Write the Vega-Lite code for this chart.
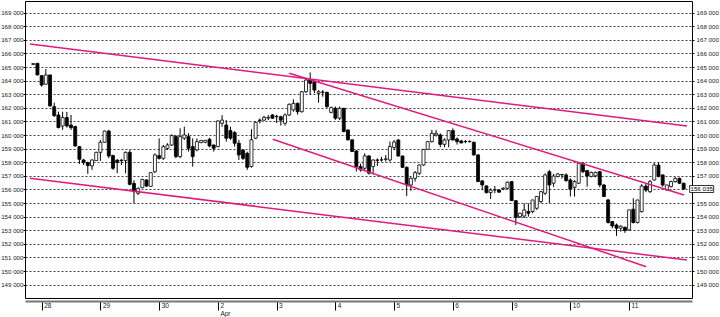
{
"$schema": "https://vega.github.io/schema/vega-lite/v6.json",
"width": 667, "height": 297,
"autosize": {"type": "none"},
"padding": {"left": 25, "top": 1, "right": 28, "bottom": 19},
"background": "white",
"config": {"view": {"stroke": "#000", "strokeWidth": 1}, "axis": {"labelFont": "Liberation Sans", "labelFontSize": 6.2, "labelColor": "#222"}},
"datasets": {
"candles": [
{"i":0,"o":165200,"h":165300,"l":165150,"c":165250},
{"i":1,"o":165280,"h":165300,"l":164400,"c":164420},
{"i":2,"o":164370,"h":164420,"l":163560,"c":163680},
{"i":3,"o":163740,"h":164860,"l":163700,"c":164420},
{"i":4,"o":164420,"h":164450,"l":162100,"c":162140},
{"i":5,"o":162090,"h":162380,"l":161330,"c":161430},
{"i":6,"o":161480,"h":161720,"l":160500,"c":160550},
{"i":7,"o":160670,"h":161720,"l":160380,"c":161290},
{"i":8,"o":161290,"h":161700,"l":160550,"c":160670},
{"i":9,"o":160740,"h":161480,"l":160380,"c":160550},
{"i":10,"o":160620,"h":160700,"l":159150,"c":159200},
{"i":11,"o":159150,"h":159200,"l":157880,"c":158220},
{"i":12,"o":158170,"h":158250,"l":157800,"c":157980},
{"i":13,"o":157980,"h":158050,"l":157150,"c":157760},
{"i":14,"o":157740,"h":158200,"l":157440,"c":158170},
{"i":15,"o":158120,"h":158780,"l":158100,"c":158730},
{"i":16,"o":158730,"h":159640,"l":158100,"c":159470},
{"i":17,"o":159470,"h":160330,"l":159450,"c":160300},
{"i":18,"o":160300,"h":160400,"l":158300,"c":158460},
{"i":19,"o":158490,"h":158560,"l":157440,"c":157560},
{"i":20,"o":158150,"h":158250,"l":157190,"c":157980},
{"i":21,"o":158150,"h":158250,"l":157800,"c":158120},
{"i":22,"o":158120,"h":158800,"l":157190,"c":158730},
{"i":23,"o":158730,"h":158900,"l":156300,"c":156380},
{"i":24,"o":156450,"h":156680,"l":154990,"c":155840},
{"i":25,"o":155720,"h":156150,"l":155600,"c":156080},
{"i":26,"o":156130,"h":156780,"l":156100,"c":156740},
{"i":27,"o":156700,"h":156750,"l":156200,"c":156250},
{"i":28,"o":156230,"h":157260,"l":156200,"c":157240},
{"i":29,"o":157310,"h":158660,"l":157200,"c":158540},
{"i":30,"o":158490,"h":159760,"l":158200,"c":158290},
{"i":31,"o":158290,"h":159280,"l":158170,"c":159150},
{"i":32,"o":159030,"h":159400,"l":158900,"c":159270},
{"i":33,"o":159270,"h":160060,"l":159200,"c":159960},
{"i":34,"o":159890,"h":160000,"l":158300,"c":158420},
{"i":35,"o":158420,"h":160500,"l":158300,"c":159890},
{"i":36,"o":159770,"h":160620,"l":159650,"c":160010},
{"i":37,"o":159890,"h":160140,"l":158790,"c":159030},
{"i":38,"o":159150,"h":159760,"l":157680,"c":158420},
{"i":39,"o":158910,"h":159760,"l":158800,"c":159520},
{"i":40,"o":159450,"h":159650,"l":159400,"c":159600},
{"i":41,"o":159470,"h":159640,"l":159400,"c":159620},
{"i":42,"o":159690,"h":159800,"l":159100,"c":159200},
{"i":43,"o":159270,"h":159300,"l":158790,"c":159030},
{"i":44,"o":159150,"h":161080,"l":159100,"c":161040},
{"i":45,"o":160870,"h":161470,"l":160620,"c":161100},
{"i":46,"o":160740,"h":161100,"l":159520,"c":159770},
{"i":47,"o":160330,"h":160620,"l":159650,"c":159770},
{"i":48,"o":160180,"h":160300,"l":159150,"c":159400},
{"i":49,"o":159400,"h":159650,"l":158170,"c":158540},
{"i":50,"o":158900,"h":158950,"l":158170,"c":158290},
{"i":51,"o":158660,"h":158780,"l":157440,"c":157630},
{"i":52,"o":157690,"h":160430,"l":157600,"c":159650},
{"i":53,"o":159770,"h":161000,"l":159700,"c":160940},
{"i":54,"o":161100,"h":161220,"l":160850,"c":161080},
{"i":55,"o":161100,"h":161420,"l":161050,"c":161300},
{"i":56,"o":161250,"h":161470,"l":161100,"c":161300},
{"i":57,"o":161480,"h":161550,"l":161200,"c":161240},
{"i":58,"o":161350,"h":161500,"l":160900,"c":161380},
{"i":59,"o":161350,"h":161420,"l":160700,"c":161100},
{"i":60,"o":160870,"h":161600,"l":160700,"c":161480},
{"i":61,"o":161480,"h":162330,"l":161400,"c":162260},
{"i":62,"o":161850,"h":162630,"l":161720,"c":162330},
{"i":63,"o":162330,"h":162400,"l":161500,"c":161720},
{"i":64,"o":161720,"h":163250,"l":161650,"c":163190},
{"i":65,"o":163190,"h":164200,"l":163100,"c":164050},
{"i":66,"o":164050,"h":164610,"l":162980,"c":163800},
{"i":67,"o":163930,"h":164000,"l":163070,"c":163310},
{"i":68,"o":163070,"h":163310,"l":162380,"c":163190},
{"i":69,"o":163160,"h":163310,"l":162820,"c":163150},
{"i":70,"o":163140,"h":163200,"l":162000,"c":162090},
{"i":71,"o":161670,"h":162100,"l":161600,"c":162020},
{"i":72,"o":161970,"h":162100,"l":161120,"c":161240},
{"i":73,"o":161240,"h":162100,"l":161100,"c":161970},
{"i":74,"o":161970,"h":162000,"l":160200,"c":160260},
{"i":75,"o":160380,"h":160400,"l":159600,"c":159650},
{"i":76,"o":159650,"h":159700,"l":158750,"c":158790},
{"i":77,"o":158830,"h":158900,"l":157320,"c":157680},
{"i":78,"o":157680,"h":157900,"l":157320,"c":157440},
{"i":79,"o":157560,"h":158660,"l":157440,"c":158470},
{"i":80,"o":158470,"h":158500,"l":157100,"c":157200},
{"i":81,"o":157680,"h":158200,"l":157100,"c":158170},
{"i":82,"o":158170,"h":158290,"l":157730,"c":158150},
{"i":83,"o":158170,"h":158400,"l":158050,"c":158180},
{"i":84,"o":158220,"h":158530,"l":158050,"c":158250},
{"i":85,"o":158170,"h":159520,"l":158050,"c":159160},
{"i":86,"o":159080,"h":159640,"l":158900,"c":159490},
{"i":87,"o":159640,"h":159700,"l":158420,"c":158460},
{"i":88,"o":158460,"h":158500,"l":157580,"c":157630},
{"i":89,"o":157630,"h":157700,"l":155520,"c":156330},
{"i":90,"o":156330,"h":156900,"l":155900,"c":156820},
{"i":91,"o":156820,"h":157360,"l":156580,"c":157240},
{"i":92,"o":157190,"h":157850,"l":157070,"c":157800},
{"i":93,"o":157800,"h":158980,"l":157750,"c":158950},
{"i":94,"o":158950,"h":159560,"l":158900,"c":159520},
{"i":95,"o":159520,"h":160380,"l":159450,"c":160130},
{"i":96,"o":160010,"h":160380,"l":159890,"c":160130},
{"i":97,"o":160010,"h":160130,"l":159100,"c":159320},
{"i":98,"o":159320,"h":159760,"l":159100,"c":159640},
{"i":99,"o":159640,"h":160330,"l":159100,"c":160330},
{"i":100,"o":160330,"h":160500,"l":159600,"c":159640},
{"i":101,"o":159710,"h":159830,"l":159300,"c":159520},
{"i":102,"o":159570,"h":159650,"l":159400,"c":159420},
{"i":103,"o":159520,"h":159640,"l":159400,"c":159530},
{"i":104,"o":159520,"h":159600,"l":159450,"c":159540},
{"i":105,"o":159470,"h":159520,"l":158500,"c":158540},
{"i":106,"o":158540,"h":158600,"l":156550,"c":156580},
{"i":107,"o":156630,"h":156700,"l":155950,"c":156330},
{"i":108,"o":156260,"h":156330,"l":155700,"c":155770},
{"i":109,"o":155770,"h":156080,"l":155300,"c":155960},
{"i":110,"o":155960,"h":156260,"l":155730,"c":155980},
{"i":111,"o":155960,"h":156000,"l":155770,"c":155800},
{"i":112,"o":156040,"h":156150,"l":155950,"c":156100},
{"i":113,"o":156090,"h":156580,"l":156000,"c":156530},
{"i":114,"o":156580,"h":156600,"l":155150,"c":155180},
{"i":115,"o":155180,"h":155200,"l":153390,"c":153950},
{"i":116,"o":154000,"h":154300,"l":153900,"c":154250},
{"i":117,"o":154050,"h":154980,"l":153900,"c":154500},
{"i":118,"o":154380,"h":154980,"l":154000,"c":154250},
{"i":119,"o":154380,"h":155230,"l":154250,"c":155230},
{"i":120,"o":154620,"h":155500,"l":154500,"c":155480},
{"i":121,"o":155110,"h":155900,"l":155000,"c":155840},
{"i":122,"o":155720,"h":157190,"l":155600,"c":157070},
{"i":123,"o":157310,"h":157430,"l":154990,"c":156330},
{"i":124,"o":156460,"h":157140,"l":156200,"c":156990},
{"i":125,"o":156950,"h":157200,"l":156900,"c":157140},
{"i":126,"o":157080,"h":157140,"l":156800,"c":157100},
{"i":127,"o":157070,"h":157190,"l":156580,"c":156650},
{"i":128,"o":156700,"h":156820,"l":155480,"c":156020},
{"i":129,"o":156160,"h":156700,"l":155480,"c":156580},
{"i":130,"o":156460,"h":157980,"l":156400,"c":157930},
{"i":131,"o":157930,"h":158000,"l":157200,"c":157310},
{"i":132,"o":157390,"h":157440,"l":156210,"c":156990},
{"i":133,"o":156950,"h":157310,"l":156900,"c":157260},
{"i":134,"o":157000,"h":157310,"l":156900,"c":157260},
{"i":135,"o":157310,"h":157360,"l":156170,"c":156330},
{"i":136,"o":156330,"h":156400,"l":155450,"c":155480},
{"i":137,"o":155230,"h":155300,"l":153500,"c":153570},
{"i":138,"o":153640,"h":153700,"l":153150,"c":153320},
{"i":139,"o":153390,"h":153500,"l":152590,"c":153150},
{"i":140,"o":153150,"h":153370,"l":152900,"c":153300},
{"i":141,"o":153220,"h":153270,"l":152810,"c":152980},
{"i":142,"o":153030,"h":154500,"l":152950,"c":154500},
{"i":143,"o":154550,"h":155350,"l":153500,"c":153570},
{"i":144,"o":153570,"h":155230,"l":153500,"c":155230},
{"i":145,"o":154370,"h":156400,"l":154300,"c":156250},
{"i":146,"o":156250,"h":156400,"l":155800,"c":155950},
{"i":147,"o":155840,"h":156700,"l":155750,"c":156580},
{"i":148,"o":156700,"h":157950,"l":156650,"c":157800},
{"i":149,"o":157800,"h":158000,"l":156900,"c":156950},
{"i":150,"o":157070,"h":157100,"l":156200,"c":156330},
{"i":151,"o":155970,"h":156350,"l":155900,"c":156330},
{"i":152,"o":156210,"h":156650,"l":156150,"c":156580},
{"i":153,"o":156580,"h":156900,"l":156500,"c":156820},
{"i":154,"o":156820,"h":156880,"l":156400,"c":156460},
{"i":155,"o":156460,"h":156500,"l":155950,"c":156035}
],
"lines": [
{"x1": -0.775, "p1": 166699, "x2": 155.8, "p2": 160669},
{"x1": -0.775, "p1": 156824, "x2": 155.8, "p2": 150816},
{"x1": 61.0, "p1": 164544, "x2": 155.1, "p2": 155596},
{"x1": 57.1, "p1": 159691, "x2": 146.1, "p2": 150324}
],
"last": [{"i": 155, "c": 156035, "label": "156 035"}]
},
"resolve": {"axis": {"y": "independent"}},
"layer": [
{
"data": {"name": "candles"},
"mark": {"type": "rule", "color": "#000", "strokeWidth": 1},
"encoding": {
"x": {"field": "i", "type": "quantitative", "scale": {"domain": [-0.775, 155.8], "nice": false, "zero": false},
 "axis": {"values": [2,16,30,44,58,72,86,100,114,128,142], "title": null, "grid": false, "domain": true, "domainColor": "#777", "domainWidth": 2, "offset": 3, "tickSize": 9, "tickColor": "#000", "labelAlign": "left", "labelBaseline": "top", "labelPadding": -8, "labelOffset": 2, "labelLineHeight": 8, "labelFontSize": 6.5, "labelFlush": false, "labelOverlap": false, "labelColor": "#222",
 "labelExpr": "datum.value == 2 ? '28' : datum.value == 16 ? '29' : datum.value == 30 ? '30' : datum.value == 44 ? ['2', 'Apr'] : datum.value == 58 ? '3' : datum.value == 72 ? '4' : datum.value == 86 ? '5' : datum.value == 100 ? '6' : datum.value == 114 ? '9' : datum.value == 128 ? '10' : '11'"}},
"y": {"field": "l", "type": "quantitative", "scale": {"domain": [148020, 169860], "nice": false, "zero": false},
 "axis": {"orient": "left", "title": null, "values": [149000,150000,151000,152000,153000,154000,155000,156000,157000,158000,159000,160000,161000,162000,163000,164000,165000,166000,167000,168000,169000], "grid": true, "gridColor": "#000", "gridDash": [2,2], "gridOpacity": 0.75, "domain": false, "tickSize": 2, "tickColor": "#000", "labelPadding": 0, "labelExpr": "replace(format(datum.value, ','), ',', ' ')"}},
"y2": {"field": "h"}
}
},
{
"data": {"name": "candles"},
"mark": {"type": "bar", "orient": "vertical", "size": 3, "stroke": "#000", "strokeWidth": 0.8},
"encoding": {
"x": {"field": "i", "type": "quantitative"},
"y": {"field": "o", "type": "quantitative", "scale": {"domain": [148020, 169860], "nice": false, "zero": false},
 "axis": {"orient": "right", "title": null, "values": [149000,150000,151000,152000,153000,154000,155000,157000,158000,159000,160000,161000,162000,163000,164000,165000,166000,167000,168000,169000], "grid": false, "domain": false, "tickSize": 2, "tickColor": "#000", "labelPadding": 2, "labelExpr": "replace(format(datum.value, ','), ',', ' ')"}},
"y2": {"field": "c"},
"fill": {"condition": {"test": "datum.c < datum.o", "value": "#000"}, "value": "#fff"}
}
},
{
"data": {"name": "lines"},
"mark": {"type": "rule", "color": "#e0197d", "strokeWidth": 1.5, "clip": true},
"encoding": {
"x": {"field": "x1", "type": "quantitative"},
"x2": {"field": "x2"},
"y": {"field": "p1", "type": "quantitative", "axis": null},
"y2": {"field": "p2"}
}
},
{
"data": {"name": "last"},
"mark": {"type": "point", "shape": "M-1,-0.29H1V0.29H-1Z", "size": 576, "filled": true, "fill": "#fff", "stroke": "#000", "strokeWidth": 0.8, "opacity": 1, "xOffset": 18},
"encoding": {
"x": {"field": "i", "type": "quantitative"},
"y": {"field": "c", "type": "quantitative", "axis": null}
}
},
{
"data": {"name": "last"},
"mark": {"type": "text", "dx": 18, "fontSize": 6.2, "font": "Liberation Sans", "align": "center", "baseline": "middle", "color": "#000"},
"encoding": {
"x": {"field": "i", "type": "quantitative"},
"y": {"field": "c", "type": "quantitative", "axis": null},
"text": {"field": "label"}
}
}
]
}
